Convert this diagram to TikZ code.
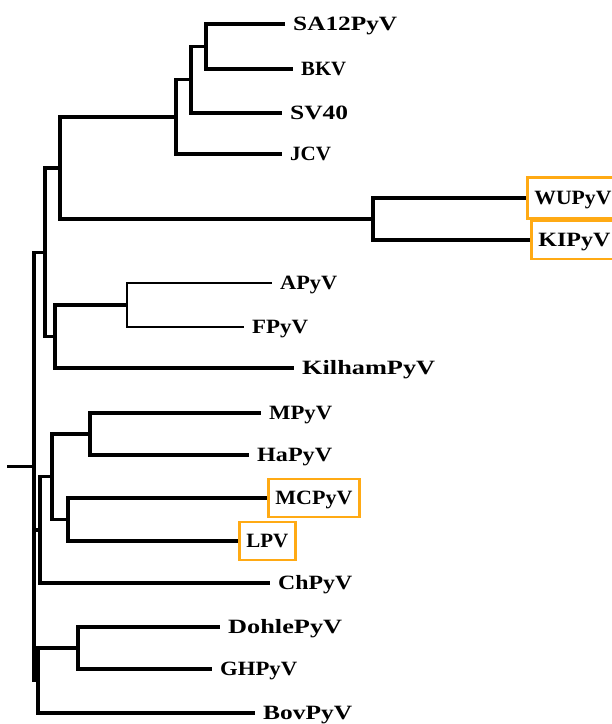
\documentclass[tikz,border=0pt]{standalone}
\usepackage{fontspec}
\setmainfont{Liberation Serif}
\usepackage{graphicx}
\newcommand\lw[2]{\resizebox{#1pt}{\height}{#2}}
\definecolor{boxorange}{RGB}{255,170,20}
\begin{document}
\begin{tikzpicture}[x=1pt,y=-1pt,
  br/.style={line width=3.2pt, line join=miter},
  thinbr/.style={line width=2.6pt, line join=miter},
  lab/.style={anchor=west, inner xsep=8pt, inner ysep=0pt, text height=13.4pt, text depth=0pt,
    font=\fontsize{20.3}{20}\selectfont\bfseries},
  boxed/.style={lab, inner xsep=7pt, draw=boxorange, line width=2.8pt, minimum height=38pt}]
\useasboundingbox (0,0) rectangle (612,724);
\clip (0,0) rectangle (612,724);

% leaf labels
\node[lab] (sa12) at (285,24)  {\lw{104}{SA12PyV}};
\node[lab] (bkv)  at (293,69)  {\lw{45}{BKV}};
\node[lab] (sv40) at (282,113) {\lw{58}{SV40}};
\node[lab] (jcv)  at (282,154) {\lw{41}{JCV}};
\node[boxed, minimum height=41pt] (wu) at (526,198) {\lw{77}{WUPyV}};
\node[boxed] (ki) at (530,240) {\lw{72}{KIPyV}};
\node[lab] (apy)  at (272,283) {\lw{57}{APyV}};
\node[lab] (fpy)  at (244,327) {\lw{56}{FPyV}};
\node[lab] (kil)  at (294,368) {\lw{133}{KilhamPyV}};
\node[lab] (mpy)  at (261,413) {\lw{63}{MPyV}};
\node[lab] (ha)   at (249,455) {\lw{75}{HaPyV}};
\node[boxed] (mc) at (267,498) {\lw{77}{MCPyV}};
\node[boxed] (lpv) at (238,541) {\lw{42}{LPV}};
\node[lab] (ch)   at (270,583) {\lw{74}{ChPyV}};
\node[lab] (doh)  at (220,627) {\lw{114}{DohlePyV}};
\node[lab] (gh)   at (212,669) {\lw{77}{GHPyV}};
\node[lab] (bov)  at (255,713) {\lw{89}{BovPyV}};

% internal nodes
\coordinate (n1) at (206,46.5);
\coordinate (n2) at (191,79.75);
\coordinate (n3) at (176,116.9);
\coordinate (n5) at (373,219);
\coordinate (n4) at (60,168);
\coordinate (n7) at (127,305);
\coordinate (n8) at (55,336.5);
\coordinate (n6) at (45,252.25);
\coordinate (n9) at (90,434);
\coordinate (n10) at (68,519.5);
\coordinate (n11) at (52,476.75);
\coordinate (n12) at (40,529.9);
\coordinate (n13) at (78,648);
\coordinate (n14) at (38,680.5);
\coordinate (R) at (34,466.4);
\coordinate (stub) at (7,466.4);

% edges
\draw[br] (n1) |- (sa12.west);
\draw[br] (n1) |- (bkv.west);
\draw[br] (n2) |- (n1);
\draw[br] (n2) |- (sv40.west);
\draw[br] (n3) |- (n2);
\draw[br] (n3) |- (jcv.west);
\draw[br] (n5) |- (wu.west);
\draw[br] (n5) |- (ki.west);
\draw[br] (n4) |- (n3);
\draw[br] (n4) |- (n5);
\draw[thinbr] (n7) |- (apy.west);
\draw[thinbr] (n7) |- (fpy.west);
\draw[br] (n8) |- (n7);
\draw[br] (n8) |- (kil.west);
\draw[br] (n6) |- (n4);
\draw[br] (n6) |- (n8);
\draw[br] (n9) |- (mpy.west);
\draw[br] (n9) |- (ha.west);
\draw[br] (n10) |- (mc.west);
\draw[br] (n10) |- (lpv.west);
\draw[br] (n11) |- (n9);
\draw[br] (n11) |- (n10);
\draw[br] (n12) |- (n11);
\draw[br] (n12) |- (ch.west);
\draw[br] (n13) |- (doh.west);
\draw[br] (n13) |- (gh.west);
\draw[br] (n14) |- (n13);
\draw[br] (n14) |- (bov.west);
\draw[br] (R) |- (n6);
\draw[br] (R) |- (n12);
\draw[br] (R) |- (n14);
\draw[br] (stub) -- (R);
\end{tikzpicture}
\end{document}
